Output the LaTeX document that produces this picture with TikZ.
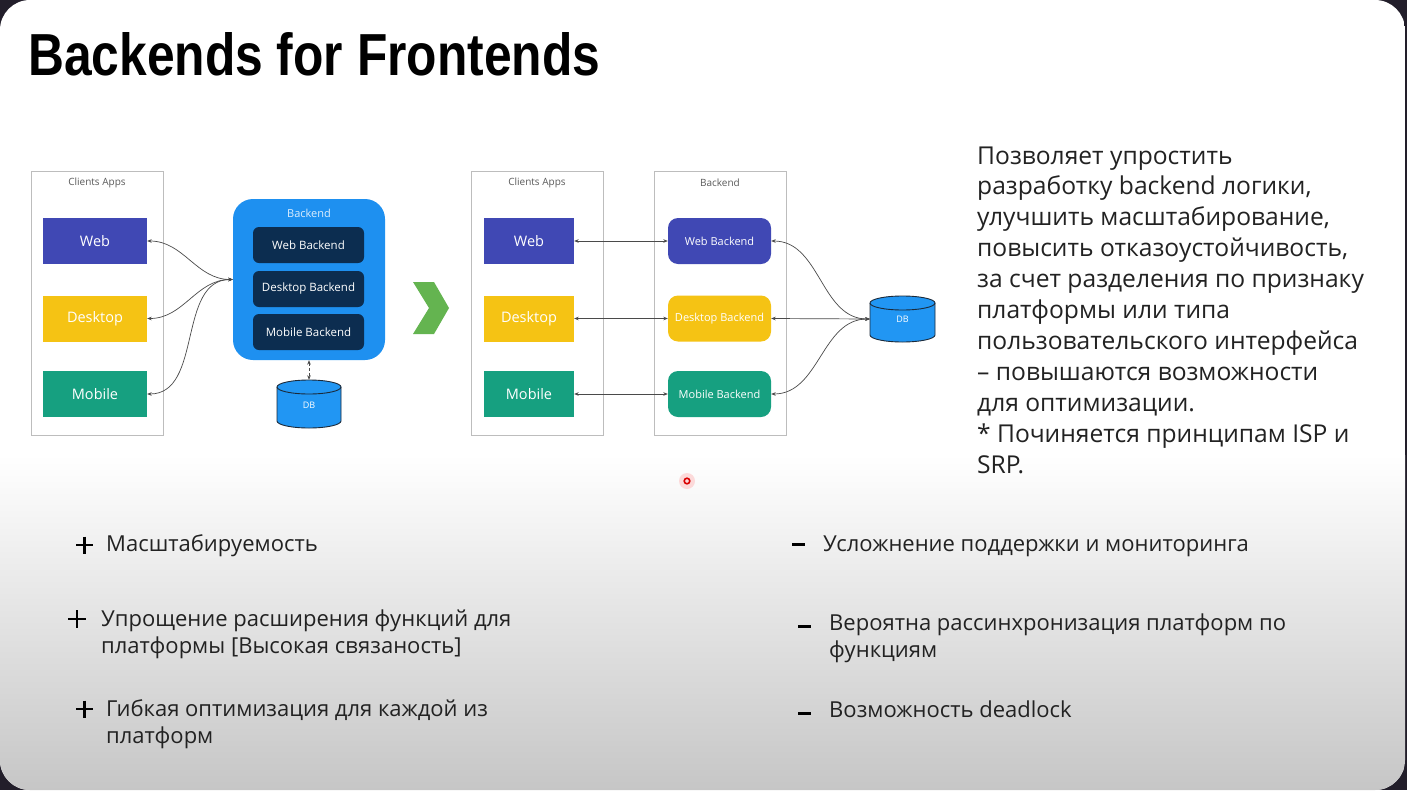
\documentclass[tikz,border=0pt]{standalone}
\usepackage{fontspec}
\setmainfont{Open Sans}
\newfontfamily\titlefont{Liberation Sans}
\usetikzlibrary{arrows.meta}

\definecolor{outerbg}{HTML}{221E2A}
\definecolor{slidegray}{HTML}{C6C6C6}
\definecolor{framegray}{HTML}{BDBDBD}
\definecolor{labelgray}{HTML}{5A5A5A}
\definecolor{webblue}{HTML}{4048B4}
\definecolor{deskyellow}{HTML}{F5C314}
\definecolor{mobteal}{HTML}{16A080}
\definecolor{beblue}{HTML}{1E90F0}
\definecolor{benavy}{HTML}{0C2D50}
\definecolor{dbblue}{HTML}{2196F3}
\definecolor{dbline}{HTML}{1B2A3A}
\definecolor{chevgreen}{HTML}{64B450}
\definecolor{conngray}{HTML}{4A4A4A}
\definecolor{textdark}{HTML}{222222}

\begin{document}
\begin{tikzpicture}[x=1pt,y=-1pt,
  frame/.style={draw=framegray, line width=0.8pt, inner sep=0,
    minimum width=132pt, minimum height=264pt},
  framelabel/.style={inner sep=0, text=labelgray, font=\fontsize{10}{12}\selectfont},
  clientbox/.style={inner sep=0, text=white, minimum height=46pt,
    font=\fontsize{14.5}{16}\selectfont},
  innerbe/.style={fill=benavy, rounded corners=6pt, inner sep=0,
    minimum width=111pt, minimum height=36pt, text=white,
    font=\fontsize{11.5}{13}\selectfont},
  splitbe/.style={rounded corners=10pt, inner sep=0, minimum width=103pt,
    minimum height=46pt, text=white, font=\fontsize{11}{13}\selectfont},
  conn/.style={draw=conngray, line width=0.7pt,
    {Stealth[length=4.5pt,width=3.6pt]}-{Stealth[length=4.5pt,width=3.6pt]}},
  dblabel/.style={inner sep=0, text=white, font=\fontsize{9}{10}\selectfont},
  rtext/.style={anchor=base west, inner sep=0, text=textdark,
    font=\fontsize{24.6}{28}\selectfont},
  ltext/.style={anchor=base west, inner sep=0, text=textdark,
    font=\fontsize{22}{26}\selectfont},
  sign/.style={line width=2.7pt, draw=black}
]
\useasboundingbox (0,0) rectangle (1407,790);

% slide on dark backdrop, white fading to grey at the bottom
\fill[outerbg] (0,0) rectangle (1407,790);
\begin{scope}
  \clip[rounded corners=30pt] (0,0) rectangle (1405,790);
  \fill[white] (0,0) rectangle (1405,790);
  \shade[top color=white, bottom color=slidegray] (0,455) rectangle (1405,790);
\end{scope}

% title
\node[anchor=base west, inner sep=0] (title) at (28,75)
  {\resizebox{572pt}{43pt}{\titlefont\bfseries Backends for Frontends}};

% ---------- monolithic backend ----------
\node[frame] (lframe) at (97,303) {};
\node[framelabel] (lflabel) at (97,183) {Clients Apps};
\node[clientbox, fill=webblue, minimum width=104pt] (lweb) at (95,241) {Web};
\node[clientbox, fill=deskyellow, minimum width=104pt] (ldesk) at (95,318.5) {Desktop};
\node[clientbox, fill=mobteal, minimum width=104pt] (lmob) at (95,394) {Mobile};

\node[fill=beblue, rounded corners=20pt, inner sep=0,
  minimum width=152pt, minimum height=161pt] (be) at (309,279.5) {};
\node[inner sep=0, text=white!85!beblue, font=\fontsize{11}{13}\selectfont] (belabel) at (309,213) {Backend};
\node[innerbe] (bweb) at (308.5,245) {Web Backend};
\node[innerbe] (bdesk) at (308.5,289) {Desktop Backend};
\node[innerbe] (bmob) at (308.5,332) {Mobile Backend};

% database under the shared backend
\node[inner sep=0, minimum width=64pt, minimum height=48pt] (ldb) at (309,404) {};
\fill[dbblue] (277,387) -- (277,421) arc[start angle=180,end angle=360,x radius=32pt,y radius=7pt]
  -- (341,387) arc[start angle=0,end angle=180,x radius=32pt,y radius=7pt] -- cycle;
\draw[dbline, line width=0.9pt] (277,387) -- (277,421) arc[start angle=180,end angle=360,x radius=32pt,y radius=7pt]
  -- (341,387) arc[start angle=0,end angle=180,x radius=32pt,y radius=7pt] -- cycle;
\draw[dbline, line width=0.9pt] (277,387) arc[start angle=180,end angle=360,x radius=32pt,y radius=7pt];
\node[dblabel] (ldbtext) at (309,405) {DB};

\draw[conn] (lweb.east) to[out=0,in=180] (be.west);
\draw[conn] (ldesk.east) to[out=0,in=180] (be.west);
\draw[conn] (lmob.east) to[out=0,in=180] (be.west);
\draw[conn, densely dashed] (be.south) -- (ldb.north);

% ---------- chevron ----------
\fill[chevgreen] (413,282) -- (434,282) -- (449,308) -- (434,334) -- (413,334) -- (429,308) -- cycle;

% ---------- backends for frontends ----------
\node[frame] (rcframe) at (537,303) {};
\node[framelabel] (rclabel) at (537,183) {Clients Apps};
\node[frame] (rbframe) at (720,303) {};
\node[framelabel] (rblabel) at (720,183) {Backend};

\node[clientbox, fill=webblue, minimum width=90pt] (rweb) at (529,241) {Web};
\node[clientbox, fill=deskyellow, minimum width=90pt] (rdesk) at (529,318.5) {Desktop};
\node[clientbox, fill=mobteal, minimum width=90pt] (rmob) at (529,394) {Mobile};

\node[splitbe, fill=webblue] (rbweb) at (719.5,241) {Web Backend};
\node[splitbe, fill=deskyellow] (rbdesk) at (719.5,318.5) {Desktop Backend};
\node[splitbe, fill=mobteal] (rbmob) at (719.5,394) {Mobile Backend};

\node[inner sep=0, minimum width=65pt, minimum height=46pt] (rdb) at (902.5,319) {};
\fill[dbblue] (870,303) -- (870,335) arc[start angle=180,end angle=360,x radius=32.5pt,y radius=7pt]
  -- (935,303) arc[start angle=0,end angle=180,x radius=32.5pt,y radius=7pt] -- cycle;
\draw[dbline, line width=0.9pt] (870,303) -- (870,335) arc[start angle=180,end angle=360,x radius=32.5pt,y radius=7pt]
  -- (935,303) arc[start angle=0,end angle=180,x radius=32.5pt,y radius=7pt] -- cycle;
\draw[dbline, line width=0.9pt] (870,303) arc[start angle=180,end angle=360,x radius=32.5pt,y radius=7pt];
\node[dblabel] (rdbtext) at (902.5,319) {DB};

\draw[conn] (rweb.east) -- (rbweb.west);
\draw[conn] (rdesk.east) -- (rbdesk.west);
\draw[conn] (rmob.east) -- (rbmob.west);
\draw[conn] (rbweb.east) to[out=0,in=180] (rdb.west);
\draw[conn] (rbdesk.east) -- (rdb.west);
\draw[conn] (rbmob.east) to[out=0,in=180] (rdb.west);

% ---------- description ----------
\foreach \line [count=\i] in {
  Позволяет упростить,
  {разработку backend логики,},
  {улучшить масштабирование,},
  {повысить отказоустойчивость,},
  за счет разделения по признаку,
  платформы или типа,
  пользовательского интерфейса,
  – повышаются возможности,
  для оптимизации.,
  * Починяется принципам ISP и,
  SRP.}
  \node[rtext] (desc\i) at (977,{164+30.9*(\i-1)}) {\line};

% ---------- pros ----------
\draw[sign] (76,545) -- (93,545) (84.5,536.5) -- (84.5,553.5);
\node[ltext] (pro1) at (106,551) {Масштабируемость};
\draw[sign] (68,619) -- (86,619) (77,610) -- (77,628);
\node[ltext] (pro2a) at (101,626) {Упрощение расширения функций для};
\node[ltext] (pro2b) at (101,653) {платформы [Высокая связаность]};
\draw[sign] (76,709) -- (93,709) (84.5,700.5) -- (84.5,717.5);
\node[ltext] (pro3a) at (106,716) {Гибкая оптимизация для каждой из};
\node[ltext] (pro3b) at (106,743) {платформ};

% ---------- cons ----------
\draw[sign, line width=3pt] (792,544) -- (805,544);
\node[ltext] (con1) at (823,551) {Усложнение поддержки и мониторинга};
\draw[sign, line width=3pt] (798,626) -- (811,626);
\node[ltext] (con2a) at (829,630) {Вероятна рассинхронизация платформ по};
\node[ltext] (con2b) at (829,657) {функциям};
\draw[sign, line width=3pt] (798,713) -- (811,713);
\node[ltext] (con3) at (829,717) {Возможность deadlock};

% pointer marker
\fill[red!30, opacity=0.45] (687,481) circle[radius=8pt];
\draw[red!85!black, line width=1.6pt] (687,481) circle[radius=2.8pt];
\end{tikzpicture}
\end{document}
